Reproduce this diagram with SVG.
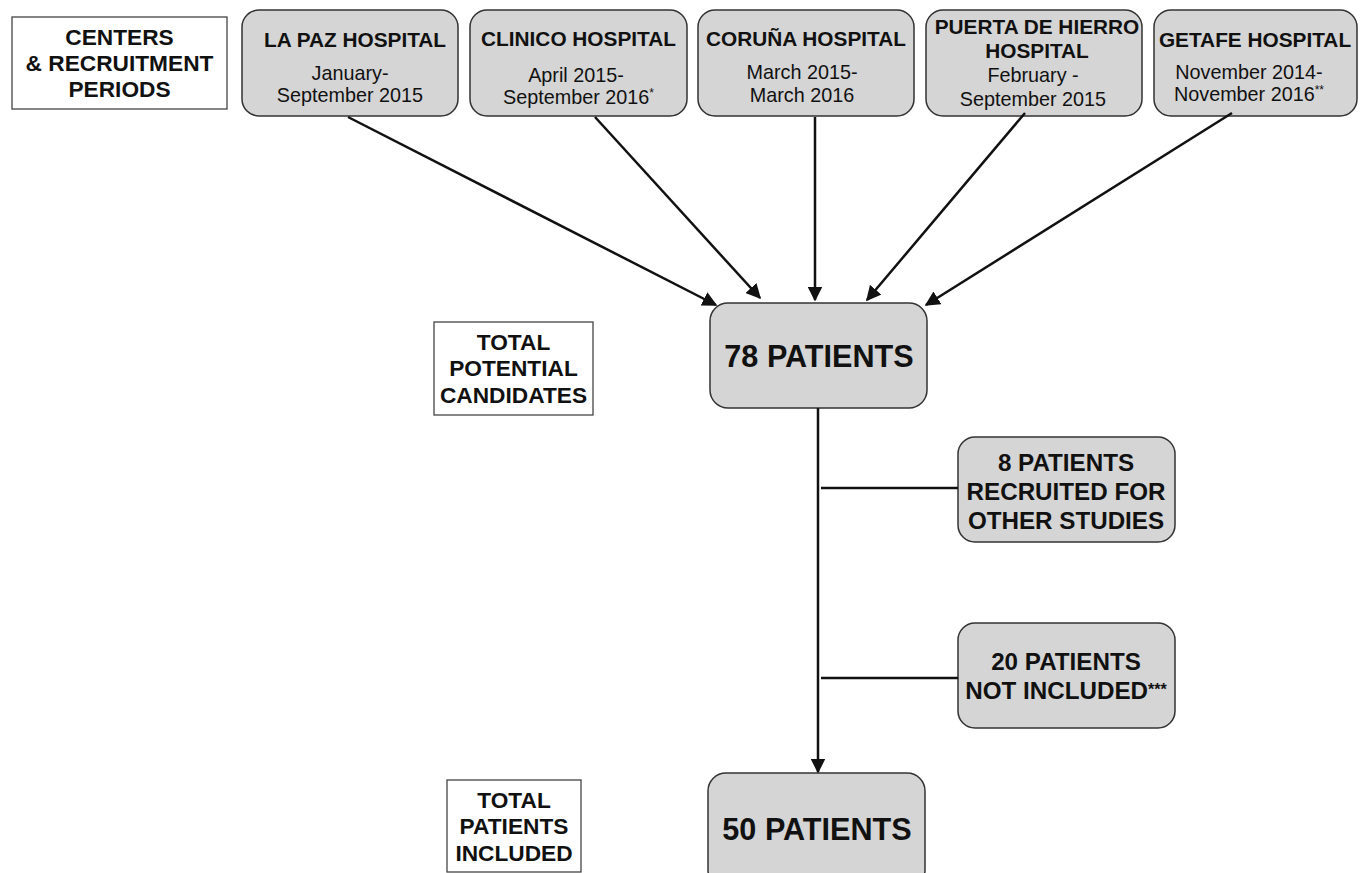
<svg xmlns="http://www.w3.org/2000/svg" width="1361" height="873" viewBox="0 0 1361 873">
<style>
.lbl{fill:#fff;stroke:#444;stroke-width:1.3}
.nd{fill:#d5d5d5;stroke:#333;stroke-width:1.5}
text{font-family:"Liberation Sans",Arial,Helvetica,sans-serif;fill:#111;text-anchor:middle}
.t{font-size:20.8px;font-weight:bold}
.s{font-size:19.8px}
.l{font-size:22.7px;font-weight:bold}
.big{font-size:30.6px;font-weight:bold}
.m{font-size:24.2px;font-weight:bold}
.c{stroke:#111;stroke-width:2.5;fill:none}
</style>
<defs>
<marker id="ah" viewBox="0 0 10 10" refX="9" refY="5" markerWidth="6" markerHeight="6" orient="auto" markerUnits="strokeWidth">
<path d="M0,0 L10,5 L0,10 z" fill="#111"/>
</marker>
</defs>
<rect width="1361" height="873" fill="#fff"/>
<g id="label-centers">
<rect class="lbl" x="12" y="17" width="215" height="92"/>
<text class="l" x="119.5" y="45">CENTERS</text>
<text class="l" x="119.5" y="71">&amp; RECRUITMENT</text>
<text class="l" x="119.5" y="97">PERIODS</text>
</g>
<g id="lapaz">
<rect class="nd" x="242" y="10" width="216" height="106" rx="17"/>
<text class="t" x="355" y="47">LA PAZ HOSPITAL</text>
<text class="s" x="350" y="80">January-</text>
<text class="s" x="350" y="102">September 2015</text>
</g>
<g id="clinico">
<rect class="nd" x="470" y="10" width="217" height="106" rx="17"/>
<text class="t" x="578.5" y="46">CLINICO HOSPITAL</text>
<text class="s" x="576" y="82">April 2015-</text>
<text class="s" x="578.5" y="104">September 2016<tspan font-size="12" dy="-7">*</tspan></text>
</g>
<g id="coruna">
<rect class="nd" x="698" y="10" width="216" height="106" rx="17"/>
<text class="t" x="806" y="46">CORUÑA HOSPITAL</text>
<text class="s" x="802" y="79">March 2015-</text>
<text class="s" x="802" y="102">March 2016</text>
</g>
<g id="puerta">
<rect class="nd" x="926" y="10" width="216" height="106" rx="17"/>
<text class="t" x="1037" y="34">PUERTA DE HIERRO</text>
<text class="t" x="1037" y="58">HOSPITAL</text>
<text class="s" x="1033" y="82">February -</text>
<text class="s" x="1033" y="106">September 2015</text>
</g>
<g id="getafe">
<rect class="nd" x="1154" y="10" width="203" height="106" rx="17"/>
<text class="t" x="1255" y="47">GETAFE HOSPITAL</text>
<text class="s" x="1249" y="79">November 2014-</text>
<text class="s" x="1249" y="101">November 2016<tspan font-size="12" dy="-7">**</tspan></text>
</g>
<g id="label-potential">
<rect class="lbl" x="434" y="322" width="159" height="93"/>
<text class="l" x="513.5" y="350">TOTAL</text>
<text class="l" x="513.5" y="376">POTENTIAL</text>
<text class="l" x="513.5" y="403">CANDIDATES</text>
</g>
<g id="n78">
<rect class="nd" x="710" y="303" width="217" height="105" rx="18"/>
<text class="big" x="819" y="367">78 PATIENTS</text>
</g>
<g id="n8">
<rect class="nd" x="958" y="437" width="217" height="105" rx="17"/>
<text class="m" x="1066" y="471">8 PATIENTS</text>
<text class="m" x="1066" y="500">RECRUITED FOR</text>
<text class="m" x="1066" y="529">OTHER STUDIES</text>
</g>
<g id="n20">
<rect class="nd" x="958" y="623" width="217" height="105" rx="17"/>
<text class="m" x="1066" y="670">20 PATIENTS</text>
<text class="m" x="1066" y="699">NOT INCLUDED<tspan font-size="16" dy="-4">***</tspan></text>
</g>
<g id="label-included">
<rect class="lbl" x="447" y="780" width="134" height="92"/>
<text class="l" x="514" y="808">TOTAL</text>
<text class="l" x="514" y="834">PATIENTS</text>
<text class="l" x="514" y="861">INCLUDED</text>
</g>
<g id="n50">
<rect class="nd" x="708" y="773" width="217" height="115" rx="18"/>
<text class="big" x="817" y="840">50 PATIENTS</text>
</g>
<g id="connectors">
<line class="c" x1="348" y1="117" x2="716" y2="305" marker-end="url(#ah)"/>
<line class="c" x1="595" y1="117" x2="760" y2="298" marker-end="url(#ah)"/>
<line class="c" x1="815" y1="117" x2="815" y2="300" marker-end="url(#ah)"/>
<line class="c" x1="1025" y1="113" x2="867" y2="300" marker-end="url(#ah)"/>
<line class="c" x1="1232" y1="113" x2="926" y2="305" marker-end="url(#ah)"/>
<line class="c" x1="818" y1="408" x2="818" y2="772" marker-end="url(#ah)"/>
<line class="c" x1="821" y1="488" x2="958" y2="488"/>
<line class="c" x1="821" y1="678" x2="958" y2="678"/>
</g>
</svg>
